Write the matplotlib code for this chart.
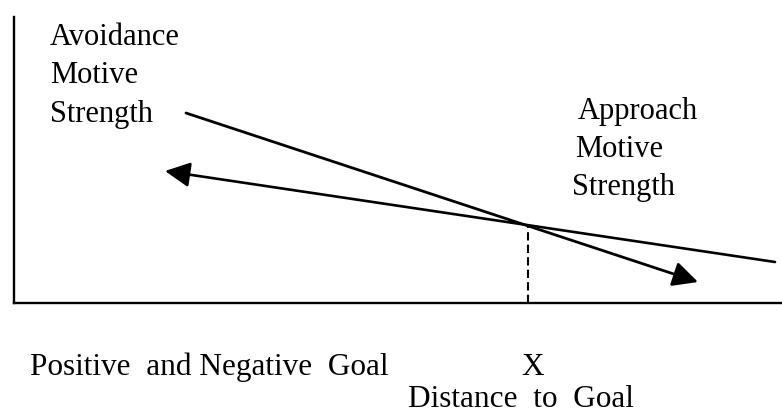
import matplotlib
matplotlib.use("Agg")
import matplotlib.pyplot as plt

# values (pixels from the left axis / above the bottom axis)
avoid_x = [172, 684]
avoid_y = [190, 21]
approach_x = [761, 151]
approach_y = [41, 132]
goal_x = 514
goal_y = 78

upper_labels = ["Avoidance", "Motive", "Strength"]
upper_x = [36, 36, 36]
upper_y = [258, 220, 181]
right_labels = ["Approach", "Motive", "Strength"]
right_x = [564, 561, 558]
right_y = [184, 146, 108]

plt.rcParams['font.family'] = ['Liberation Serif', 'DejaVu Serif']

fig = plt.figure(figsize=(7.82, 4.13), dpi=100)
ax = fig.add_axes([14 / 782, 110 / 413, 768 / 782, 286 / 413])
ax.set_xlim(0, 768)
ax.set_ylim(0, 286)
for s in ['top', 'right']:
    ax.spines[s].set_visible(False)
for s in ['left', 'bottom']:
    ax.spines[s].set_linewidth(1.7)
ax.set_xticks([])
ax.set_yticks([])

# steep line, arrow at the right end
ax.annotate("", xy=(avoid_x[1], avoid_y[1]), xytext=(avoid_x[0], avoid_y[0]),
            arrowprops=dict(arrowstyle='-|>', color='black', lw=2.0,
                            mutation_scale=38, shrinkA=0, shrinkB=0))
# flatter line, arrow at the left end
ax.annotate("", xy=(approach_x[1], approach_y[1]), xytext=(approach_x[0], approach_y[0]),
            arrowprops=dict(arrowstyle='-|>', color='black', lw=1.9,
                            mutation_scale=38, shrinkA=0, shrinkB=0))

ax.plot([goal_x, goal_x], [0, goal_y], color='black', lw=1.5, ls=(0, (4, 2)))

for t, x, y in zip(upper_labels, upper_x, upper_y):
    ax.text(x, y, t, fontsize=22, va='baseline', ha='left')
for t, x, y in zip(right_labels, right_x, right_y):
    ax.text(x, y, t, fontsize=22, va='baseline', ha='left')

ax.text(16, -72, "Positive  and Negative  Goal", fontsize=22.5, va='baseline', ha='left', clip_on=False)
ax.text(goal_x + 5, -72, "X", fontsize=22.5, va='baseline', ha='center', clip_on=False)
ax.text(394, -104, "Distance  to  Goal", fontsize=22.5, va='baseline', ha='left', clip_on=False)

fig.savefig("out.png", dpi=100)
